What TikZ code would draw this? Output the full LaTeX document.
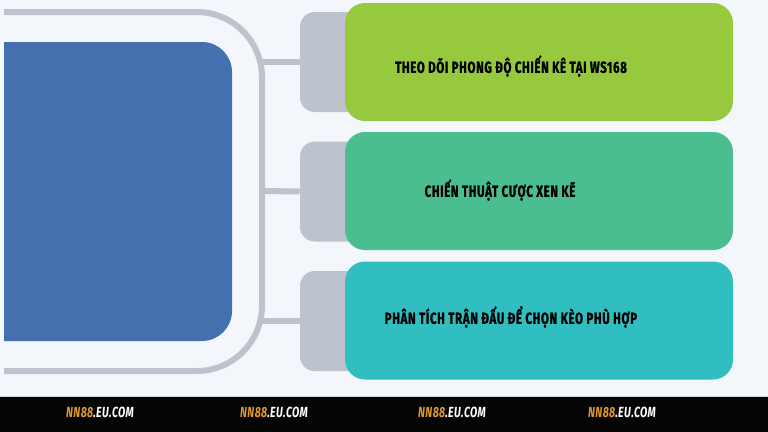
\documentclass[tikz,border=0pt]{standalone}
\usepackage{fontspec}
\setmainfont{Fira Sans}
\newfontfamily\cardfont{Fira Sans}[FakeStretch=0.72,LetterSpace=4,FakeBold=1.2]
\newfontfamily\footfont{Fira Sans}[FakeStretch=0.72,LetterSpace=3]
\usepackage{tikz}
\usetikzlibrary{positioning}

\definecolor{pagebg}{HTML}{F3F7FC}
\definecolor{hubblue}{HTML}{4470B0}
\definecolor{railgrey}{HTML}{BDC3CC}
\definecolor{cardgreen}{HTML}{97C93F}
\definecolor{cardmint}{HTML}{4BBE8F}
\definecolor{cardteal}{HTML}{30BEC0}
\definecolor{footorange}{HTML}{E09A2A}

\begin{document}
\begin{tikzpicture}[x=0.75pt,y=-0.75pt,
  rail/.style={draw=railgrey,line width=4.5pt},
  tab/.style={fill=railgrey,rounded corners=11pt,minimum width=60pt,minimum height=75pt,inner sep=0pt},
  card/.style={rounded corners=15pt,minimum width=291pt,minimum height=88.5pt,inner sep=0pt},
  cardtext/.style={font=\cardfont\bfseries\fontsize{12}{14}\selectfont,text=black,inner sep=0pt},
  foottext/.style={font=\footfont\bfseries\itshape\fontsize{11}{13}\selectfont,text=white,inner sep=0pt}]
\useasboundingbox (0,0) rectangle (768,432);
\fill[pagebg] (0,0) rectangle (768,396);
\fill[black!98] (0,396) rectangle (768,432);
\draw[railgrey!70,line width=0.75pt] (0,396) -- (768,396);

% hub and rail
\fill[hubblue,rounded corners=22.5pt] (4,42) -- (232,42) -- (232,341) -- (4,341);
\draw[rail,rounded corners=49pt] (4,12) -- (262,12) -- (262,371) -- (4,371);
\coordinate (s1) at (262,62);
\coordinate (s2) at (262,191);
\coordinate (s3) at (262,321);

% tabs
\node[tab] (tab1) at (340,62) {};
\node[tab] (tab2) at (340,191.5) {};
\node[tab] (tab3) at (340,321) {};
\foreach \i in {1,2,3}
  \draw[rail] (s\i) -- (tab\i.west);

% cards
\node[card,fill=cardgreen] (card1) at (539,62) {};
\node[card,fill=cardmint] (card2) at (539,191) {};
\node[card,fill=cardteal] (card3) at (539,320.5) {};
\node[cardtext] (lbl1) at (511,66) {THEO DÕI PHONG ĐỘ CHIẾN KÊ TẠI WS168};
\node[cardtext] (lbl2) at (500,190) {CHIẾN THUẬT CƯỢC XEN KẼ};
\node[cardtext] (lbl3) at (511,317) {PHÂN TÍCH TRẬN ĐẤU ĐỂ CHỌN KÈO PHÙ HỢP};

% footer
\foreach \x/\n in {100/f1,274/f2,452/f3,622/f4}
  \node[foottext] (\n) at (\x,412) {\textcolor{footorange}{NN88}.EU.COM};
\end{tikzpicture}
\end{document}
